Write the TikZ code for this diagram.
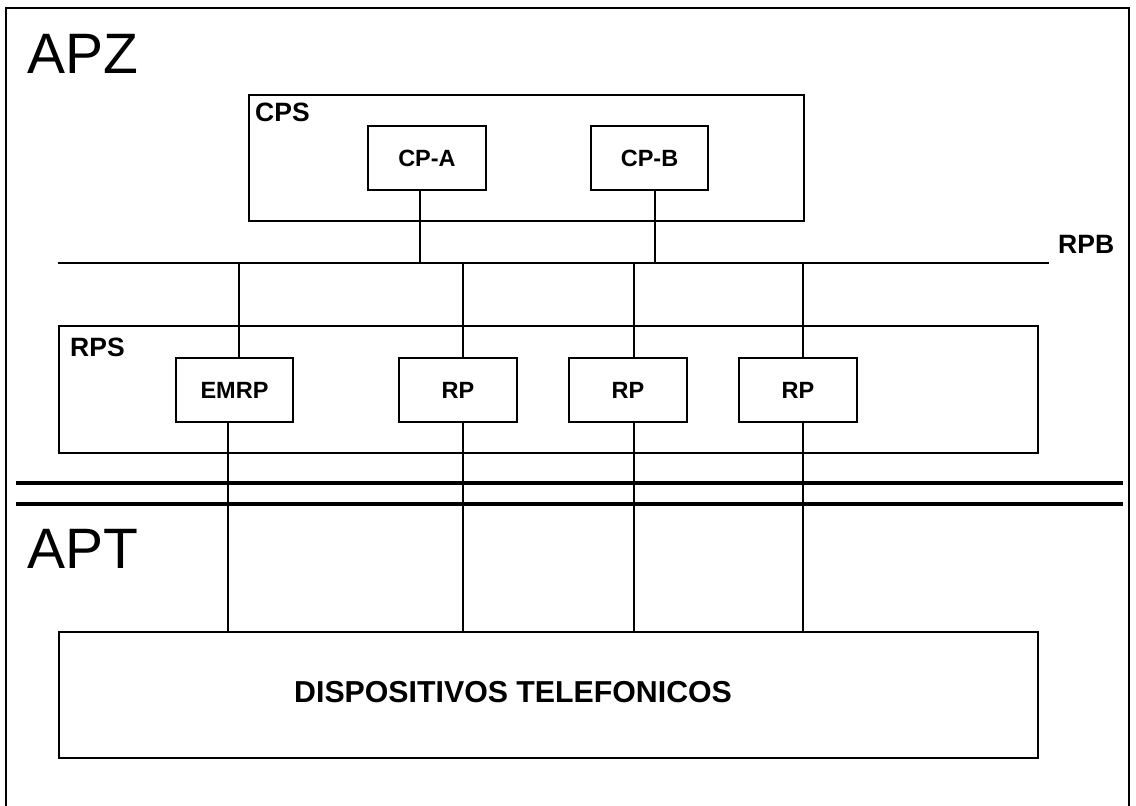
\documentclass[tikz,border=0pt]{standalone}
\usepackage{fontspec}
\setmainfont{Liberation Sans}
\begin{document}
\begin{tikzpicture}[x=1pt,y=-1pt,
  line/.style={line width=1.8pt},
  box/.style={draw,line width=1.8pt,inner sep=0pt,rectangle},
  boxlabel/.style={font=\bfseries\fontsize{23.5}{23.5}\selectfont,inner sep=0pt},
  grouplabel/.style={font=\bfseries\fontsize{26.5}{26.5}\selectfont,inner sep=0pt,anchor=base west},
  biglabel/.style={font=\fontsize{57}{57}\selectfont,inner sep=0pt,anchor=base west},
  heavy/.style={line width=3.8pt}]
\useasboundingbox (0,0) rectangle (1136,806);
% outer frame
\draw[line] (6,806) -- (6,8) -- (1129,8) -- (1129,806);
\node[biglabel] (apz) at (27,73) {APZ};
\node[biglabel] (apt) at (27,568) {APT};
% CPS
\node[box,minimum width=555pt,minimum height=126pt] (cps) at (526.5,158) {};
\node[grouplabel] (cpslabel) at (255,121) {CPS};
\node[box,minimum width=118pt,minimum height=64pt] (cpa) at (427,158) {};
\node[boxlabel] at (cpa.center) {CP-A};
\node[box,minimum width=117pt,minimum height=64pt] (cpb) at (649.5,158) {};
\node[boxlabel] at (cpb.center) {CP-B};
% RPB bus
\coordinate (busL) at (58,263);
\coordinate (busR) at (1049,263);
\draw[line] (busL) -- (busR);
\node[grouplabel] (rpblabel) at (1058,253) {RPB};
\coordinate (bA) at (420,263);
\coordinate (bB) at (655,263);
\draw[line] (cpa.south -| bA) -- (bA);
\draw[line] (cpb.south -| bB) -- (bB);
% RPS
\node[box,minimum width=979pt,minimum height=127pt] (rps) at (548.5,389.5) {};
\node[grouplabel] (rpslabel) at (70,356) {RPS};
\node[box,minimum width=117pt,minimum height=64pt] (emrp) at (234.5,390) {};
\node[boxlabel] at (emrp.center) {EMRP};
\node[box,minimum width=118pt,minimum height=64pt] (rpa) at (458,390) {};
\node[boxlabel] at (rpa.center) {RP};
\node[box,minimum width=118pt,minimum height=64pt] (rpb) at (628,390) {};
\node[boxlabel] at (rpb.center) {RP};
\node[box,minimum width=118pt,minimum height=64pt] (rpc) at (798,390) {};
\node[boxlabel] at (rpc.center) {RP};
\coordinate (tE) at (239,263);
\coordinate (t1) at (463,263);
\coordinate (t2) at (634,263);
\coordinate (t3) at (803,263);
\draw[line] (tE) -- (emrp.north -| tE);
\draw[line] (t1) -- (rpa.north -| t1);
\draw[line] (t2) -- (rpb.north -| t2);
\draw[line] (t3) -- (rpc.north -| t3);
% separator
\draw[heavy] (16,483) -- (1123,483);
\draw[heavy] (16,504) -- (1123,504);
% devices
\node[box,minimum width=979pt,minimum height=126pt] (dev) at (548.5,695) {};
\node[font=\bfseries\fontsize{30.3}{30.3}\selectfont,inner sep=0pt,anchor=base west] (devlabel) at (294,702) {DISPOSITIVOS TELEFONICOS};
\coordinate (xE) at (228,0);
\coordinate (x1) at (463,0);
\coordinate (x2) at (634,0);
\coordinate (x3) at (803,0);
\draw[line] (emrp.south -| xE) -- (dev.north -| xE);
\draw[line] (rpa.south -| x1) -- (dev.north -| x1);
\draw[line] (rpb.south -| x2) -- (dev.north -| x2);
\draw[line] (rpc.south -| x3) -- (dev.north -| x3);
\end{tikzpicture}
\end{document}
